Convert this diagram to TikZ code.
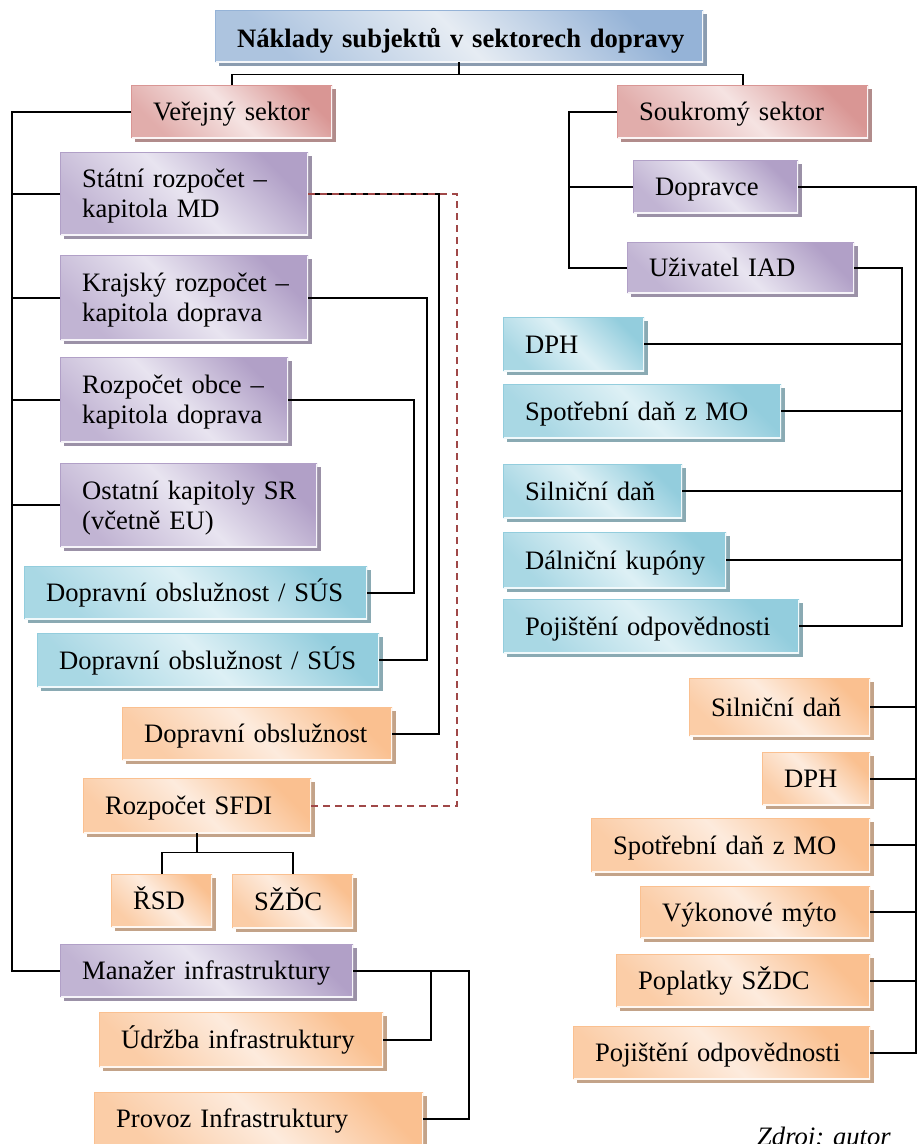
\documentclass[tikz,border=0pt]{standalone}
\usepackage{fontspec}
\setmainfont{Liberation Serif}
\usetikzlibrary{shadows}

% colour families: dark corner tone, light centre tone
\definecolor{titD}{HTML}{95B3D7}\definecolor{titL}{HTML}{E6ECF3}
\definecolor{redD}{HTML}{D99694}\definecolor{redL}{HTML}{F5E3E2}
\definecolor{purD}{HTML}{B1A0C7}\definecolor{purL}{HTML}{E8E4F0}
\definecolor{bluD}{HTML}{93CDDD}\definecolor{bluL}{HTML}{DDF0F5}
\definecolor{oraD}{HTML}{FAC090}\definecolor{oraL}{HTML}{FDEBDD}
\definecolor{linkred}{HTML}{A04848}

\newcommand\boxfont{\fontsize{26.6pt}{30pt}\selectfont}

% \drawbox{name}{style}{x1}{y1}{x2}{y2}{text}  (corners in px, y downwards)
\newcommand\drawbox[7]{%
  \pgfmathsetmacro\bxw{#5-#3}%
  \pgfmathsetmacro\bxh{#6-#4}%
  \pgfmathsetmacro\bxt{#5-#3-44}%
  \node[#2, anchor=north west, minimum width=\bxw pt, minimum height=\bxh pt,
        text width=\bxt pt] (#1) at (#3,-#4) {#7};}

\tikzset{
  conn/.style={line width=1.6pt, draw=black},
  dashconn/.style={line width=2pt, draw=linkred, dash pattern=on 7pt off 5pt},
  boxbase/.style={inner xsep=22pt, inner ysep=0pt, align=left, font=\boxfont,
    text height=23.85pt, text depth=6.15pt},
  fam/.style 2 args={boxbase,
    top color=#1, bottom color=#1!70!#2, middle color=#2, shading angle=-45,
    drop shadow={shadow xshift=3.5pt, shadow yshift=-3.5pt, fill=#1!55!gray, opacity=1},
    path picture={
      \draw[line width=2.4pt, #2!40!white] (path picture bounding box.south west) -| (path picture bounding box.north east);
      \draw[line width=2.4pt, #1] (path picture bounding box.south west) |- (path picture bounding box.north east);}},
  titbox/.style={fam={titD}{titL}, font=\boxfont\bfseries, text height=26pt, text depth=4pt},
  redbox/.style={fam={redD}{redL}},
  purbox/.style={fam={purD}{purL}},
  blubox/.style={fam={bluD}{bluL}},
  orabox/.style={fam={oraD}{oraL}},
  twoline/.style={text depth=36.15pt},
}

\begin{document}
\begin{tikzpicture}[x=1pt, y=1pt]
\useasboundingbox[fill=white] (0,0) rectangle (917,-1144);

% --- boxes ---------------------------------------------------------------
\drawbox{tit}{titbox}{215}{10}{703}{62}{\mbox{Náklady subjektů v sektorech dopravy}}
\drawbox{ver}{redbox}{131}{85}{332}{138}{\mbox{Veřejný sektor}}
\drawbox{sou}{redbox}{617}{85}{868}{138}{\mbox{Soukromý sektor}}

\drawbox{stat}{purbox,twoline}{60}{152}{308}{235}{\mbox{Státní rozpočet –}\\\mbox{kapitola MD}}
\drawbox{kraj}{purbox,twoline}{60}{255}{308}{340}{\mbox{Krajský rozpočet –}\\\mbox{kapitola doprava}}
\drawbox{obce}{purbox,twoline}{60}{357}{288}{442}{\mbox{Rozpočet obce –}\\\mbox{kapitola doprava}}
\drawbox{ost}{purbox,twoline}{60}{463}{317}{547}{\mbox{Ostatní kapitoly SR}\\\mbox{(včetně EU)}}
\drawbox{sus1}{blubox}{24}{566}{367}{619}{\mbox{Dopravní obslužnost / SÚS}}
\drawbox{sus2}{blubox}{37}{633}{379}{687}{\mbox{Dopravní obslužnost / SÚS}}
\drawbox{dob}{orabox}{122}{707}{392}{760}{\mbox{Dopravní obslužnost}}
\drawbox{sfdi}{orabox}{83}{778}{311}{833}{\mbox{Rozpočet SFDI}}
\drawbox{rsd}{orabox}{111}{874}{212}{927}{\mbox{ŘSD}}
\drawbox{szdc}{orabox}{232}{874}{353}{928}{\mbox{SŽĎC}}
\drawbox{man}{purbox}{60}{944}{353}{997}{\mbox{Manažer infrastruktury}}
\drawbox{udr}{orabox}{99}{1012}{383}{1067}{\mbox{Údržba infrastruktury}}
\drawbox{prov}{orabox}{94}{1092}{423}{1145}{\mbox{Provoz Infrastruktury}}

\drawbox{dopr}{purbox}{633}{160}{798}{213}{\mbox{Dopravce}}
\drawbox{uziv}{purbox}{627}{242}{854}{293}{\mbox{Uživatel IAD}}
\drawbox{bdph}{blubox}{503}{317}{644}{371}{\mbox{DPH}}
\drawbox{bspo}{blubox}{503}{384}{781}{438}{\mbox{Spotřební daň z MO}}
\drawbox{bsil}{blubox}{503}{464}{682}{518}{\mbox{Silniční daň}}
\drawbox{bdal}{blubox}{503}{532}{726}{588}{\mbox{Dálniční kupóny}}
\drawbox{bpoj}{blubox}{503}{599}{799}{653}{\mbox{Pojištění odpovědnosti}}
\drawbox{osil}{orabox}{689}{678}{870}{736}{\mbox{Silniční daň}}
\drawbox{odph}{orabox}{762}{752}{870}{805}{\mbox{DPH}}
\drawbox{ospo}{orabox}{591}{818}{870}{872}{\mbox{Spotřební daň z MO}}
\drawbox{ovyk}{orabox}{640}{886}{870}{938}{\mbox{Výkonové mýto}}
\drawbox{opop}{orabox}{616}{954}{870}{1007}{\mbox{Poplatky SŽDC}}
\drawbox{opoj}{orabox}{573}{1026}{870}{1079}{\mbox{Pojištění odpovědnosti}}

\node[font=\boxfont\itshape, anchor=base west, inner sep=0pt] (src) at (757,-1145) {Zdroj: autor};

% --- routing columns -------------------------------------------------------
\coordinate (lx) at (12,0);
\coordinate (x414) at (414,0);
\coordinate (x427) at (427,0);
\coordinate (x439) at (439,0);
\coordinate (x457) at (457,0);
\coordinate (x431) at (431,0);
\coordinate (x469) at (469,0);
\coordinate (rx) at (569,0);
\coordinate (x902) at (902,0);
\coordinate (x916) at (916,0);
\coordinate (tj) at ([yshift=-12pt]tit.south);
\coordinate (sj) at ([yshift=-19pt]sfdi.south);

% --- connectors ------------------------------------------------------------
\draw[conn] (tit.south) -- (tj);
\draw[conn] (ver.north) |- (tj) -| (sou.north);

% public sector spine
\draw[conn] (ver.west) -- (ver.west -| lx) |- (man.west);
\foreach \n in {stat,kraj,obce,ost} \draw[conn] (\n.west) -- (\n.west -| lx);

% budgets to transport services
\draw[conn] (obce.east) -- (obce.east -| x414) |- (sus1.east);
\draw[conn] (kraj.east) -- (kraj.east -| x427) |- (sus2.east);
\draw[conn] (stat.east) -- (stat.east -| x439) |- (dob.east);
\draw[dashconn] (stat.east) -- (stat.east -| x457) |- (sfdi.east);

% SFDI children
\draw[conn] (sfdi.south) -- (sj);
\draw[conn] (rsd.north) |- (sj) -| (szdc.north);

% infrastructure manager
\draw[conn] (man.east) -- (man.east -| x469) |- (prov.east);
\draw[conn] (udr.east) -| (man.east -| x431);

% private sector
\draw[conn] (sou.west) -- (sou.west -| rx) |- (uziv.west);
\draw[conn] (dopr.west) -- (dopr.west -| rx);
\draw[conn] (uziv.east) -- (uziv.east -| x902) |- (bpoj.east);
\foreach \n in {bdph,bspo,bsil,bdal} \draw[conn] (\n.east) -- (\n.east -| x902);
\draw[conn] (dopr.east) -- (dopr.east -| x916) |- (opoj.east);
\foreach \n in {osil,odph,ospo,ovyk,opop} \draw[conn] (\n.east) -- (\n.east -| x916);
\end{tikzpicture}
\end{document}
